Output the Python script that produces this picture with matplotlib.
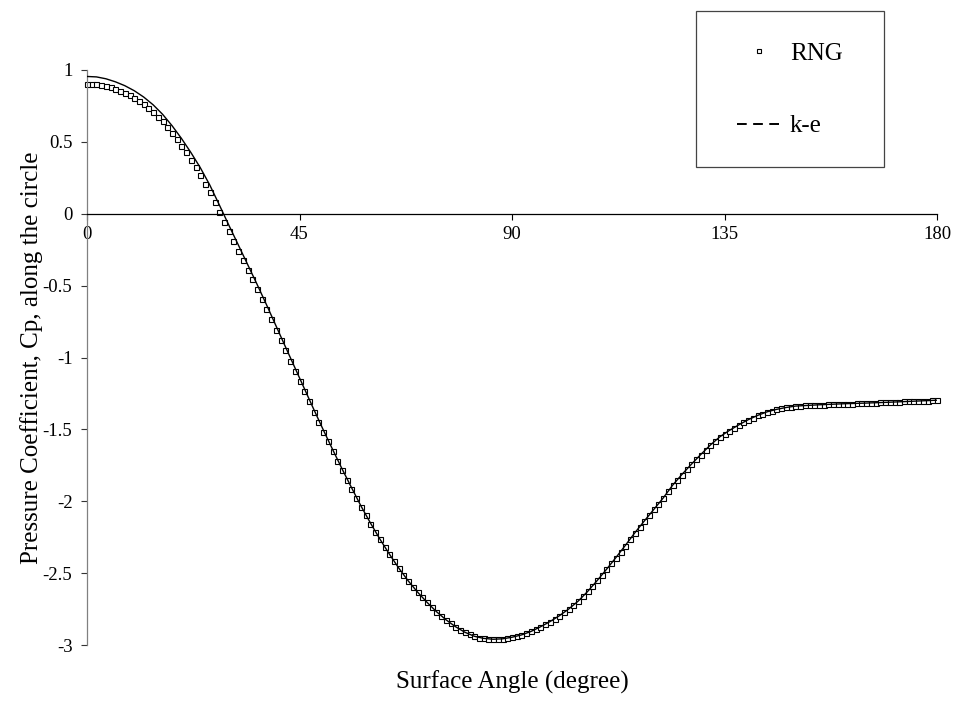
import numpy as np
import matplotlib.pyplot as plt
from matplotlib.lines import Line2D
from matplotlib.patches import Rectangle

# RNG model, one value per degree along the cylinder surface
rng_angle = np.arange(0, 181)
rng_cp = [
    0.905, 0.904, 0.902, 0.896, 0.889, 0.879, 0.868, 0.855, 0.841, 0.824,
    0.806, 0.785, 0.762, 0.736, 0.708, 0.676, 0.642, 0.604, 0.563, 0.519,
    0.474, 0.427, 0.376, 0.324, 0.269, 0.210, 0.149, 0.083, 0.014, -0.055,
    -0.123, -0.191, -0.258, -0.324, -0.390, -0.456, -0.524, -0.593, -0.663, -0.734,
    -0.806, -0.878, -0.950, -1.021, -1.092, -1.163, -1.234, -1.306, -1.377, -1.447,
    -1.516, -1.584, -1.652, -1.719, -1.785, -1.850, -1.913, -1.977, -2.039, -2.098,
    -2.155, -2.211, -2.265, -2.317, -2.368, -2.417, -2.465, -2.510, -2.553, -2.594,
    -2.632, -2.668, -2.703, -2.736, -2.768, -2.797, -2.824, -2.849, -2.872, -2.893,
    -2.911, -2.926, -2.939, -2.948, -2.954, -2.958, -2.960, -2.959, -2.956, -2.951,
    -2.945, -2.938, -2.929, -2.918, -2.905, -2.889, -2.872, -2.856, -2.838, -2.818,
    -2.796, -2.773, -2.749, -2.722, -2.694, -2.662, -2.627, -2.590, -2.551, -2.512,
    -2.473, -2.433, -2.392, -2.350, -2.308, -2.264, -2.221, -2.180, -2.139, -2.098,
    -2.057, -2.018, -1.978, -1.932, -1.888, -1.850, -1.814, -1.778, -1.743, -1.709,
    -1.676, -1.643, -1.610, -1.580, -1.552, -1.529, -1.510, -1.489, -1.470, -1.452,
    -1.434, -1.418, -1.403, -1.390, -1.378, -1.369, -1.361, -1.354, -1.347, -1.342,
    -1.337, -1.335, -1.333, -1.331, -1.330, -1.328, -1.327, -1.326, -1.325, -1.323,
    -1.322, -1.321, -1.320, -1.319, -1.318, -1.317, -1.316, -1.314, -1.313, -1.312,
    -1.311, -1.309, -1.308, -1.306, -1.305, -1.304, -1.303, -1.301, -1.300, -1.298,
    -1.297,
]

# k-e model
ke_angle = [0, 2, 4, 6, 8, 10, 12, 14, 16, 18, 20, 22, 24, 26, 28, 30, 32, 34, 36, 38,
            40, 42, 44, 46, 48, 50, 52, 54, 56, 58, 60, 62, 64, 66, 68, 70, 72, 74, 76, 78,
            80, 82, 84, 86, 88, 90, 92, 94, 96, 98, 100, 102, 104, 106, 108, 110, 112, 114,
            116, 118, 120, 122, 124, 126, 128, 130, 132, 134, 136, 138, 140, 142, 144, 146,
            148, 150, 155, 160, 165, 170, 175, 180]
ke_cp = [0.955, 0.952, 0.939, 0.918, 0.891, 0.856, 0.812, 0.758, 0.692, 0.613,
         0.524, 0.426, 0.320, 0.200, 0.063, -0.077, -0.214, -0.352, -0.490, -0.632,
         -0.778, -0.924, -1.069, -1.214, -1.359, -1.501, -1.639, -1.774, -1.904, -2.032,
         -2.150, -2.262, -2.366, -2.464, -2.553, -2.632, -2.703, -2.768, -2.824, -2.872,
         -2.911, -2.939, -2.954, -2.960, -2.957, -2.946, -2.930, -2.906, -2.874, -2.838,
         -2.797, -2.750, -2.695, -2.628, -2.553, -2.474, -2.392, -2.307, -2.220, -2.138,
         -2.058, -1.978, -1.889, -1.813, -1.742, -1.674, -1.609, -1.552, -1.508, -1.469,
         -1.433, -1.403, -1.378, -1.361, -1.348, -1.338, -1.329, -1.322, -1.317, -1.311,
         -1.304, -1.297]

x_ticks = [0, 45, 90, 135, 180]
y_ticks = [1, 0.5, 0, -0.5, -1, -1.5, -2, -2.5, -3]
y_tick_labels = ["1", "0.5", "0", "-0.5", "-1", "-1.5", "-2", "-2.5", "-3"]

plt.rcParams['font.family'] = ['Liberation Serif', 'DejaVu Serif']
plt.rcParams['axes.unicode_minus'] = False

fig = plt.figure(figsize=(9.56, 7.01), dpi=100)
ax = fig.add_axes([87/956, 56/701, 850/956, 575/701])

ax.plot(rng_angle, rng_cp, ls='none', marker='s', ms=3.6, mfc='white',
        mec='black', mew=0.8, clip_on=False, zorder=2)
ax.plot(ke_angle, ke_cp, color='black', lw=1.0, zorder=3)

ax.set_xlim(0, 180)
ax.set_ylim(-3, 1)
ax.spines['top'].set_visible(False)
ax.spines['right'].set_visible(False)
ax.spines['bottom'].set_position(('data', 0))
ax.spines['bottom'].set_linewidth(0.9)
ax.spines['left'].set_color('#808080')
ax.spines['left'].set_linewidth(0.9)

ax.set_xticks(x_ticks)
ax.set_xticklabels([str(t) for t in x_ticks])
ax.set_yticks(y_ticks)
ax.set_yticklabels(y_tick_labels)
ax.tick_params(axis='x', direction='out', length=4.5, width=0.8, pad=4, labelsize=13.5)
ax.tick_params(axis='y', direction='out', length=4.5, width=0.8, pad=6, labelsize=13.5,
               color='#333333')

ax.set_xlabel("Surface Angle (degree)", fontsize=18)
ax.xaxis.set_label_coords(0.5, -0.045)
ax.set_ylabel("Pressure Coefficient, Cp, along the circle", fontsize=18)
ax.yaxis.set_label_coords(-0.052, 0.5)

# legend sits above the plot area, top right
handles = [
    Line2D([], [], ls='none', marker='s', ms=2.6, mfc='white', mec='black', mew=0.8),
    Line2D([], [], color='black', lw=1.4, ls=(0, (5, 3.3))),
]
fig.legend(handles, ["RNG", "k-e"], loc='center', bbox_to_anchor=(790/956, 1 - 90/701),
           frameon=False, fontsize=18, labelspacing=2.0, handlelength=1.76,
           handletextpad=0.35)
fig.add_artist(Rectangle((696/956, 1 - 167/701), 188/956, 156/701,
                         transform=fig.transFigure, fill=False, ec='#444444', lw=0.9))

fig.savefig("out.png", dpi=100)
